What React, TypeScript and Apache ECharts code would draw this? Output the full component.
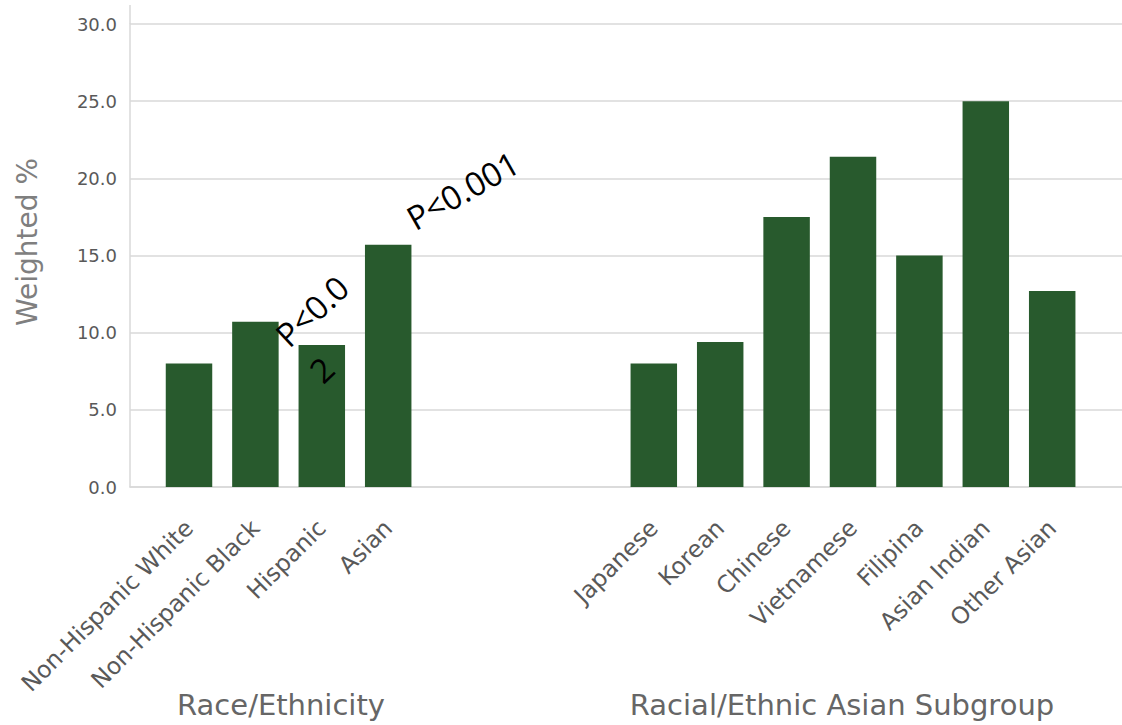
import React, { useEffect, useRef } from "react";
import * as echarts from "echarts";

// Prevalence by race/ethnicity and by Asian subgroup (weighted %)
const raceCategories = ["Non-Hispanic White", "Non-Hispanic Black", "Hispanic", "Asian"];
const raceValues = [8.0, 10.7, 9.2, 15.7];

const subgroupCategories = [
  "Japanese",
  "Korean",
  "Chinese",
  "Vietnamese",
  "Filipina",
  "Asian Indian",
  "Other Asian",
];
const subgroupValues = [8.0, 9.4, 17.5, 21.4, 15.0, 25.0, 12.7];

// empty category slots separating the two groups
const gapSlots = 3;

const yMin = 0;
const yMax = 30;
const yInterval = 5;

// significance notes attached to bars of the first group (the first one wraps onto two lines)
const hispanicNote = { category: "Hispanic", value: 9.2, lines: ["P<0.0", "2"] };
const asianNote = { category: "Asian", value: 15.7, text: "P<0.001" };

const BAR_COLOR = "#285a2d";
const GRID_COLOR = "#d9d9d9";
const LABEL_COLOR = "#595959";
const TITLE_COLOR = "#666666";
const FONT = "DejaVu Sans";

export default function App() {
  const ref = useRef<HTMLDivElement>(null);

  useEffect(() => {
    if (!ref.current) return;
    const chart = echarts.init(ref.current, null, { renderer: "svg" });

    const categories = [
      ...raceCategories,
      ...Array(gapSlots).fill(""),
      ...subgroupCategories,
    ];
    const values = [...raceValues, ...Array(gapSlots).fill(null), ...subgroupValues];

    chart.setOption({
      animation: false,
      backgroundColor: "#ffffff",
      grid: [
        { left: 130, right: 0, top: 24, bottom: 238 },
        { left: 155.8, right: 36.6, top: 24, bottom: 238 },
      ],
      xAxis: [
        {
          gridIndex: 0,
          type: "value",
          min: 0,
          max: 1,
          axisLine: { show: true, onZero: false, lineStyle: { color: GRID_COLOR, width: 1.5 } },
          axisTick: { show: false },
          axisLabel: { show: false },
          splitLine: { show: false },
        },
        {
          gridIndex: 1,
          type: "category",
          data: categories,
          axisLine: { show: false },
          axisTick: { show: false },
          axisLabel: {
            interval: 0,
            rotate: 45,
            margin: 37,
            color: LABEL_COLOR,
            fontFamily: FONT,
            fontSize: 23.5,
          },
        },
      ],
      yAxis: [
        {
          gridIndex: 0,
          type: "value",
          min: yMin,
          max: yMax,
          interval: yInterval,
          axisLine: { show: true, lineStyle: { color: GRID_COLOR, width: 1.5 } },
          axisTick: { show: false },
          axisLabel: {
            formatter: (v: number) => v.toFixed(1),
            margin: 13,
            color: LABEL_COLOR,
            fontFamily: FONT,
            fontSize: 18,
          },
          splitLine: { lineStyle: { color: GRID_COLOR, width: 1.5 } },
        },
        { gridIndex: 1, type: "value", min: yMin, max: yMax, show: false },
      ],
      series: [
        {
          type: "bar",
          xAxisIndex: 1,
          yAxisIndex: 1,
          data: values,
          barCategoryGap: "30%",
          itemStyle: { color: BAR_COLOR },
        },
      ],
    });

    const at = (cat: string, v: number) =>
      chart.convertToPixel({ xAxisIndex: 1, yAxisIndex: 1 }, [categories.indexOf(cat), v]) as number[];

    const hisp = at(hispanicNote.category, hispanicNote.value);
    const asian = at(asianNote.category, asianNote.value);
    const deg = Math.PI / 180;

    const noteStyle = {
      fill: "#000000",
      fontFamily: "Open Sans",
      fontSize: 33,
      align: "left",
      verticalAlign: "middle",
    };

    chart.setOption({
      graphic: [
        {
          type: "line",
          shape: { x1: 130, y1: 5, x2: 130, y2: 24 },
          style: { stroke: GRID_COLOR, lineWidth: 1.5 },
        },
        {
          type: "text",
          x: 27,
          y: 242,
          rotation: Math.PI / 2,
          style: {
            text: "Weighted %",
            fill: "#7f7f7f",
            fontFamily: FONT,
            fontSize: 28,
            align: "center",
            verticalAlign: "middle",
          },
        },
        {
          type: "text",
          x: 281,
          y: 705,
          style: {
            text: "Race/Ethnicity",
            fill: TITLE_COLOR,
            fontFamily: FONT,
            fontSize: 29,
            align: "center",
            verticalAlign: "middle",
          },
        },
        {
          type: "text",
          x: 842,
          y: 705,
          style: {
            text: "Racial/Ethnic Asian Subgroup",
            fill: TITLE_COLOR,
            fontFamily: FONT,
            fontSize: 29,
            align: "center",
            verticalAlign: "middle",
          },
        },
        {
          type: "text",
          z: 10,
          x: hisp[0] - 41,
          y: hisp[1] - 5,
          rotation: 43 * deg,
          style: { ...noteStyle, text: hispanicNote.lines[0] },
        },
        {
          type: "text",
          z: 10,
          x: hisp[0] - 7,
          y: hisp[1] + 31,
          rotation: 43 * deg,
          style: { ...noteStyle, text: hispanicNote.lines[1] },
        },
        {
          type: "text",
          z: 10,
          x: asian[0] + 21,
          y: asian[1] - 24,
          rotation: 29.6 * deg,
          style: { ...noteStyle, text: asianNote.text },
        },
      ],
    });

    return () => chart.dispose();
  }, []);

  return (
    <div
      ref={ref}
      style={{ position: "absolute", left: 0, top: 0, width: 1122, height: 725, background: "#fff" }}
    />
  );
}
